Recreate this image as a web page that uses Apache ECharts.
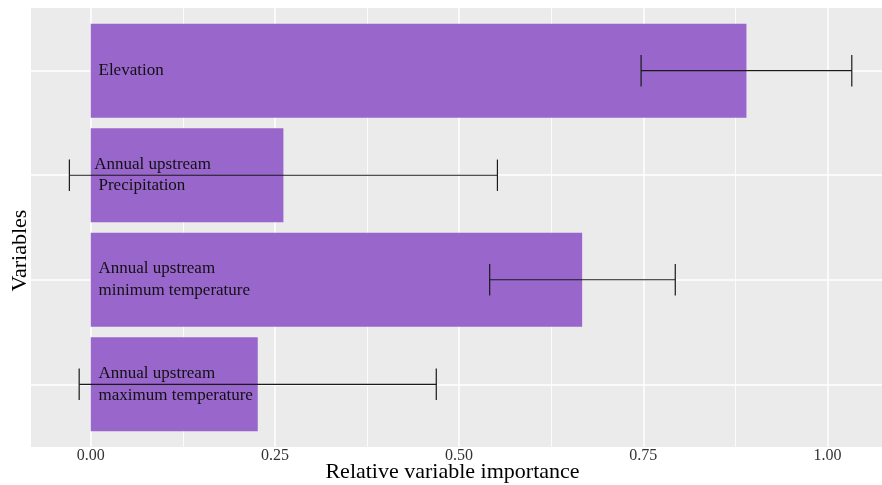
<!DOCTYPE html>
<html>
<head>
<meta charset="utf-8">
<script src="https://cdn.jsdelivr.net/npm/echarts@6/dist/echarts.min.js"></script>
<style>
  html, body { margin: 0; padding: 0; background: #ffffff; }
  #chart { width: 882px; height: 485px; }
</style>
</head>
<body>
<div id="chart"></div>
<script>
// Variable names (leading spaces kept as in the original labels)
const variables = [
  ' Elevation',
  'Annual upstream\n Precipitation',
  ' Annual upstream\n minimum temperature',
  ' Annual upstream\n maximum temperature'
];
// Relative importance of each variable
const importance = [0.890, 0.2615, 0.667, 0.2267];
// Lower and upper ends of the error bars
const errLow  = [0.747, -0.029, 0.5415, -0.0157];
const errHigh = [1.033, 0.552, 0.7934, 0.469];
// X axis ticks
const xTicks = [0, 0.25, 0.5, 0.75, 1.0];
const xMinorTicks = [0.125, 0.375, 0.625, 0.875];
// Row positions on the y scale (1 = top)
const rows = variables.map((_, i) => i + 1);

const SERIF = '"Liberation Serif", "Times New Roman", serif';
const X_MIN = -0.0811, X_MAX = 1.0740;

const barData = importance.map((v, i) => [v, rows[i]]);
const errData = errLow.map((lo, i) => [lo, errHigh[i], rows[i]]);
const labelData = rows.map(r => [0, r]);

const chart = echarts.init(document.getElementById('chart'), null, { renderer: 'canvas' });

chart.setOption({
  animation: false,
  backgroundColor: '#ffffff',
  grid: {
    left: 31, right: 0, top: 8, bottom: 38,
    show: true, backgroundColor: '#EBEBEB', borderWidth: 0
  },
  xAxis: [
    {
      type: 'value', min: X_MIN, max: X_MAX,
      axisLine: { show: false },
      axisTick: { show: false, customValues: xTicks },
      axisLabel: {
        customValues: xTicks,
        formatter: v => v.toFixed(2),
        fontFamily: SERIF, fontSize: 16, color: '#333333', margin: 1
      },
      splitLine: { show: true, lineStyle: { color: '#ffffff', width: 1.5 } }
    },
    {
      type: 'value', min: X_MIN, max: X_MAX, position: 'bottom',
      axisLine: { show: false },
      axisTick: { show: false, customValues: xMinorTicks },
      axisLabel: { show: false },
      splitLine: { show: true, lineStyle: { color: '#ffffff', width: 0.8 } }
    }
  ],
  yAxis: {
    type: 'value', min: 0.4, max: 4.6, inverse: true,
    axisLine: { show: false },
    axisTick: { show: false, customValues: rows },
    axisLabel: { show: false },
    splitLine: { show: true, lineStyle: { color: '#ffffff', width: 1.5 } }
  },
  graphic: [
    {
      type: 'text', x: 452.5, y: 472.5, z: 10,
      style: {
        text: 'Relative variable importance',
        font: '22px ' + SERIF, fill: '#000000',
        align: 'center', verticalAlign: 'middle'
      }
    },
    {
      type: 'text', x: 20.5, y: 250.5, rotation: Math.PI / 2, z: 10,
      style: {
        text: 'Variables',
        font: '22px ' + SERIF, fill: '#000000',
        align: 'center', verticalAlign: 'middle'
      }
    }
  ],
  series: [
    {
      // bars
      type: 'custom', xAxisIndex: 0, yAxisIndex: 0, z: 2,
      encode: { x: 0, y: 1 },
      data: barData,
      renderItem: (params, api) => {
        const y = api.value(1);
        const p0 = api.coord([0, y]);
        const p1 = api.coord([api.value(0), y]);
        const h = api.size([0, 1])[1] * 0.9;
        return {
          type: 'rect',
          shape: { x: p0[0], y: p0[1] - h / 2, width: p1[0] - p0[0], height: h },
          style: { fill: '#9966CC' }
        };
      }
    },
    {
      // error bars
      type: 'custom', xAxisIndex: 0, yAxisIndex: 0, z: 3,
      encode: { x: [0, 1], y: 2 },
      data: errData,
      renderItem: (params, api) => {
        const y = api.value(2);
        const a = api.coord([api.value(0), y]);
        const b = api.coord([api.value(1), y]);
        const c = api.size([0, 1])[1] * 0.3 / 2;
        const st = { stroke: '#1a1a1a', lineWidth: 1.2 };
        return {
          type: 'group',
          children: [
            { type: 'line', shape: { x1: a[0], y1: a[1], x2: b[0], y2: b[1] }, style: st },
            { type: 'line', shape: { x1: a[0], y1: a[1] - c, x2: a[0], y2: a[1] + c }, style: st },
            { type: 'line', shape: { x1: b[0], y1: b[1] - c, x2: b[0], y2: b[1] + c }, style: st }
          ]
        };
      }
    },
    {
      // variable names inside the bars
      type: 'custom', xAxisIndex: 0, yAxisIndex: 0, z: 4,
      encode: { x: 0, y: 1 },
      data: labelData,
      renderItem: (params, api) => {
        const p = api.coord([api.value(0), api.value(1)]);
        return {
          type: 'text',
          x: p[0] + 3.5,
          y: p[1],
          style: {
            text: variables[params.dataIndex],
            font: '17px ' + SERIF, fill: '#111111',
            align: 'left', verticalAlign: 'middle', lineHeight: 21.5
          }
        };
      }
    }
  ]
});
</script>
</body>
</html>
